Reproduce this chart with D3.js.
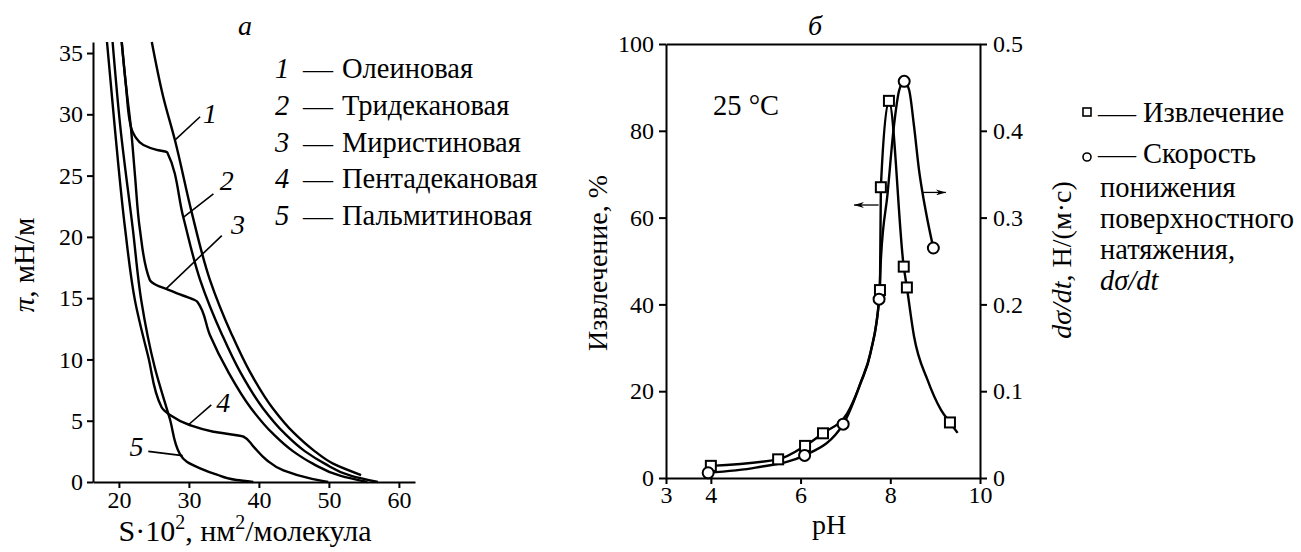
<!DOCTYPE html>
<html><head><meta charset="utf-8">
<script src="https://cdn.jsdelivr.net/npm/d3@7"></script>
<style>body{margin:0;background:#fff}</style>
</head><body>
<svg id="c" width="1301" height="552"></svg>
<script>
// ===== Panel а: π–S isotherms =====
const sTicks = [20, 30, 40, 50, 60];
const piTicks = [0, 5, 10, 15, 20, 25, 30, 35];
const acidNumbers = ["1", "2", "3", "4", "5"];
const acidNames = ["Олеиновая", "Тридекановая", "Миристиновая", "Пентадекановая", "Пальмитиновая"];
// [S·10², π]
const curve1 = [[24.7,35.9],[26.3,31.5],[28.0,27.9],[30.4,22.0],[33.0,16.5],[36.15,12.0],[38.7,9.0],[42.0,6.0],[45.0,4.0],[48.0,2.5],[50.6,1.5],[54.6,0.57]];
const curve2 = [[20.4,35.9],[21.0,32.4],[21.7,29.0],[22.3,28.2],[23.5,27.5],[25.4,27.1],[26.9,26.9],[29.2,21.6],[31.6,16.5],[34.75,12.0],[37.3,9.0],[40.6,6.0],[43.6,4.0],[46.6,2.5],[49.4,1.5],[53.2,0.5],[57.0,0]];
const curve3 = [[20.4,35.9],[21.0,32.4],[21.7,29.0],[22.3,25.0],[23.0,20.6],[24.4,16.5],[25.4,16.05],[27.0,15.7],[28.5,15.35],[29.7,15.1],[31.2,14.7],[33.0,12.0],[35.6,9.0],[38.9,6.0],[41.9,4.0],[44.9,2.5],[47.7,1.5],[51.7,0.5],[55.5,0]];
const curve4 = [[18.3,35.9],[19.4,29.0],[20.9,20.6],[22.3,14.8],[24.2,10.2],[26.1,6.1],[27.3,5.47],[30.1,4.65],[33.5,4.1],[37.8,3.7],[39.2,2.9],[41.1,1.8],[43.5,0.95],[47.3,0.3],[49.9,0]];
const curve5 = [[19.1,35.9],[20.2,29.0],[22.0,20.6],[23.2,14.8],[25.1,9.4],[27.3,5.1],[28.7,2.3],[29.7,1.66],[31.6,1.12],[34.0,0.6],[36.8,0.16],[39.2,0]];
// leader lines [from, to] and label centre, in data units
const leaders = [
  {n:"1", line:[[28.0,27.9],[31.6,29.8]], at:[33.0,30.1]},
  {n:"2", line:[[29.2,21.6],[33.5,23.5]], at:[35.4,24.6]},
  {n:"3", line:[[26.8,15.8],[34.7,20.1]], at:[37.0,21.0]},
  {n:"4", line:[[29.9,4.65],[33.2,6.3]], at:[34.9,6.5]},
  {n:"5", line:[[24.2,2.5],[29.1,2.15]], at:[22.5,2.9]}
];

// ===== Panel б: extraction vs pH =====
const phTicks = [3, 4, 6, 8, 10];
const extTicks = [0, 20, 40, 60, 80, 100];
const rateTicks = [0, 0.1, 0.2, 0.3, 0.4, 0.5];
const extPH  = [4.0, 5.5, 6.1, 6.5, 7.77, 7.79, 7.97, 8.3, 8.37, 9.33];
const extVal = [2.8, 4.3, 7.4, 10.3, 43.3, 67.0, 86.9, 48.7, 43.9, 12.8];
const extCurvePH  = [4.0, 5.5, 6.1, 6.5, 7.04, 7.34, 7.56, 7.77, 7.79, 7.97, 8.3, 8.37, 8.53, 8.83, 9.13, 9.33, 9.5];
const extCurveVal = [2.8, 4.3, 7.4, 10.3, 14.9, 21.9, 28.8, 43.3, 67.0, 86.9, 48.7, 43.9, 32.6, 22.6, 15.7, 12.8, 10.4];
const ratePH  = [3.94, 6.09, 6.95, 7.75, 8.31, 8.96];
const rateVal = [0.006, 0.026, 0.062, 0.206, 0.457, 0.265];
const rateCurvePH  = [3.94, 5.0, 6.09, 6.95, 7.34, 7.56, 7.75, 7.79, 7.94, 8.08, 8.2, 8.31, 8.42, 8.53, 8.64, 8.72, 8.83, 8.96];
const rateCurveVal = [0.006, 0.012, 0.026, 0.062, 0.11, 0.145, 0.206, 0.251, 0.328, 0.405, 0.447, 0.457, 0.447, 0.405, 0.355, 0.328, 0.297, 0.265];
const arrowExt  = {y:62.9, from:7.74, to:7.19};
const arrowRate = {y:0.329, from:8.72, to:9.24};

const FONT = '"Liberation Serif"';
const svg = d3.select("#c").attr("font-family", FONT);
const FS = 24, LF = 28.5;

function styleAxis(g){
  g.attr("font-family", FONT);
  g.selectAll(".domain").attr("stroke","#000").attr("stroke-width",2);
  g.selectAll(".tick line").attr("stroke","#000").attr("stroke-width",2);
  g.selectAll(".tick text").attr("font-size",FS).attr("font-family",FONT).attr("fill","#000");
}
function T(sel){ return sel.append("text").attr("font-family",FONT).attr("fill","#000"); }

// ---------- Panel а ----------
const ax = d3.scaleLinear().domain([16.3, 62.3]).range([93, 415]);
const ay = d3.scaleLinear().domain([0, 35.9]).range([482, 42]);

svg.append("g").attr("transform","translate(0,482)")
  .call(d3.axisBottom(ax).tickValues(sTicks).tickSize(6).tickPadding(3).tickSizeOuter(0).tickFormat(d3.format("d"))).call(styleAxis);
svg.append("g").attr("transform","translate(93,0)")
  .call(d3.axisLeft(ay).tickValues(piTicks).tickSize(6).tickPadding(4).tickSizeOuter(0).tickFormat(d3.format("d"))).call(styleAxis);

const lineA = d3.line().x(d=>ax(d[0])).y(d=>ay(d[1])).curve(d3.curveMonotoneY);
[curve1,curve2,curve3,curve4,curve5].forEach(c=>{
  svg.append("path").attr("d",lineA(c)).attr("fill","none").attr("stroke","#000").attr("stroke-width",2.4);
});
leaders.forEach(l=>{
  svg.append("line").attr("x1",ax(l.line[0][0])).attr("y1",ay(l.line[0][1]))
    .attr("x2",ax(l.line[1][0])).attr("y2",ay(l.line[1][1])).attr("stroke","#000").attr("stroke-width",1.6);
  T(svg).attr("x",ax(l.at[0])).attr("y",ay(l.at[1])).attr("dy","0.35em")
    .attr("text-anchor","middle").attr("font-style","italic").attr("font-size",28).text(l.n);
});

T(svg).attr("x",245).attr("y",35).attr("text-anchor","middle").attr("font-style","italic").attr("font-size",28).text("а");

// legend а
acidNames.forEach((name,i)=>{
  const y = 78 + i*36.8;
  T(svg).attr("x",282).attr("y",y).attr("text-anchor","middle").attr("font-style","italic").attr("font-size",LF).text(acidNumbers[i]);
  T(svg).attr("x",303).attr("y",y).attr("font-size",26).attr("textLength",30).attr("lengthAdjust","spacingAndGlyphs").text("—");
  T(svg).attr("x",342).attr("y",y).attr("font-size",LF).text(name);
});

// axis titles а
const tA = T(svg).attr("transform","translate(34,265) rotate(-90)").attr("text-anchor","middle").attr("font-size",29);
tA.append("tspan").attr("font-style","italic").text("π");
tA.append("tspan").text(", мН/м");

const tS = T(svg).attr("x",245).attr("y",541).attr("text-anchor","middle").attr("font-size",30);
tS.append("tspan").text("S·10");
tS.append("tspan").attr("dy",-12).attr("font-size",20).text("2");
tS.append("tspan").attr("dy",12).text(", нм");
tS.append("tspan").attr("dy",-12).attr("font-size",20).text("2");
tS.append("tspan").attr("dy",12).text("/молекула");

// ---------- Panel б ----------
const bx = d3.scaleLinear().domain([3,10]).range([666,980]);
const by = d3.scaleLinear().domain([0,100]).range([478,44]);
const byR = d3.scaleLinear().domain([0,0.5]).range([478,44]);

svg.append("g").attr("transform","translate(0,478)")
  .call(d3.axisBottom(bx).tickValues(phTicks).tickSize(6).tickPadding(2).tickSizeOuter(0).tickFormat(d3.format("d"))).call(styleAxis);
svg.append("g").attr("transform","translate(0,44)")
  .call(d3.axisTop(bx).tickValues([]).tickSizeOuter(0)).call(styleAxis);
svg.append("g").attr("transform","translate(666,0)")
  .call(d3.axisLeft(by).tickValues(extTicks).tickSize(7).tickPadding(5).tickSizeOuter(0).tickFormat(d3.format("d"))).call(styleAxis);
svg.append("g").attr("transform","translate(980,0)")
  .call(d3.axisRight(byR).tickValues(rateTicks).tickSize(7).tickPadding(6).tickSizeOuter(0)
    .tickFormat(d=>d===0?"0":d3.format(".1f")(d))).call(styleAxis);

const lineExt = d3.line().x((d,i)=>bx(extCurvePH[i])).y(d=>by(d)).curve(d3.curveMonotoneX);
svg.append("path").attr("d",lineExt(extCurveVal)).attr("fill","none").attr("stroke","#000").attr("stroke-width",2.4);
const lineRate = d3.line().x((d,i)=>bx(rateCurvePH[i])).y(d=>byR(d)).curve(d3.curveMonotoneX);
svg.append("path").attr("d",lineRate(rateCurveVal)).attr("fill","none").attr("stroke","#000").attr("stroke-width",2.4);

const SQ = 10;
svg.append("g").selectAll("rect").data(extVal).join("rect")
  .attr("x",(d,i)=>bx(extPH[i])-SQ/2).attr("y",d=>by(d)-SQ/2).attr("width",SQ).attr("height",SQ)
  .attr("fill","#fff").attr("stroke","#000").attr("stroke-width",2);
svg.append("g").selectAll("circle").data(rateVal).join("circle")
  .attr("cx",(d,i)=>bx(ratePH[i])).attr("cy",d=>byR(d)).attr("r",5.5)
  .attr("fill","#fff").attr("stroke","#000").attr("stroke-width",2);

// arrows
const defs = svg.append("defs");
defs.append("marker").attr("id","ah").attr("viewBox","0 0 10 6").attr("refX",10).attr("refY",3)
  .attr("markerWidth",10).attr("markerHeight",6).attr("markerUnits","userSpaceOnUse").attr("orient","auto")
  .append("path").attr("d","M0,0 L10,3 L0,6 L3,3 Z").attr("fill","#000");
svg.append("line").attr("x1",bx(arrowExt.from)).attr("x2",bx(arrowExt.to)).attr("y1",by(arrowExt.y)).attr("y2",by(arrowExt.y))
  .attr("stroke","#000").attr("stroke-width",1.3).attr("marker-end","url(#ah)");
svg.append("line").attr("x1",bx(arrowRate.from)).attr("x2",bx(arrowRate.to)).attr("y1",byR(arrowRate.y)).attr("y2",byR(arrowRate.y))
  .attr("stroke","#000").attr("stroke-width",1.3).attr("marker-end","url(#ah)");

T(svg).attr("x",713).attr("y",115).attr("font-size",28.5).text("25 °C");
T(svg).attr("x",815).attr("y",35).attr("text-anchor","middle").attr("font-style","italic").attr("font-size",28).text("б");

T(svg).attr("transform","translate(607,263) rotate(-90)").attr("text-anchor","middle").attr("font-size",28).text("Извлечение, %");
const tR = T(svg).attr("transform","translate(1071,260) rotate(-90)").attr("text-anchor","middle").attr("font-size",28);
tR.append("tspan").attr("font-style","italic").text("dσ/dt");
tR.append("tspan").text(", Н/(м·с)");
T(svg).attr("x",829).attr("y",534).attr("text-anchor","middle").attr("font-size",28).text("pH");

// legend б
svg.append("rect").attr("x",1083).attr("y",108).attr("width",8).attr("height",8).attr("fill","#fff").attr("stroke","#000").attr("stroke-width",1.6);
svg.append("circle").attr("cx",1087).attr("cy",157).attr("r",4).attr("fill","#fff").attr("stroke","#000").attr("stroke-width",1.6);
T(svg).attr("x",1098).attr("y",122).attr("font-size",26).attr("textLength",38).attr("lengthAdjust","spacingAndGlyphs").text("—");
T(svg).attr("x",1098).attr("y",163).attr("font-size",26).attr("textLength",38).attr("lengthAdjust","spacingAndGlyphs").text("—");
T(svg).attr("x",1143).attr("y",122).attr("font-size",LF).text("Извлечение");
T(svg).attr("x",1143).attr("y",163).attr("font-size",LF).text("Скорость");
["понижения","поверхностного","натяжения,"].forEach((t,i)=>{
  T(svg).attr("x",1100).attr("y",197+i*31).attr("font-size",LF).text(t);
});
T(svg).attr("x",1100).attr("y",290).attr("font-size",LF).attr("font-style","italic").text("dσ/dt");
</script>
</body></html>
